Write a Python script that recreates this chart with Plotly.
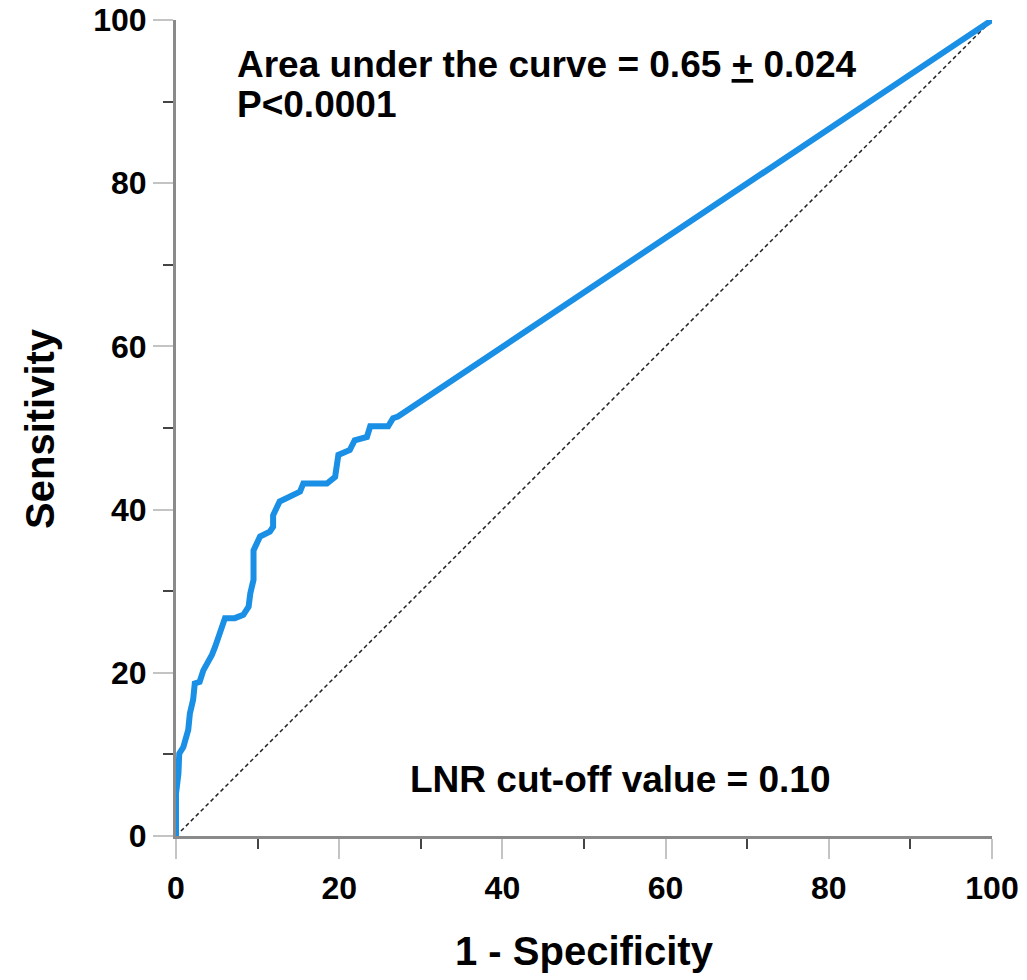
import plotly.graph_objects as go

# ROC curve points (1 - specificity %, sensitivity %)
fpr = [0, 0.0, 0.3, 0.4, 0.9, 1.5, 1.7, 2.1, 2.3, 2.9, 3.35, 3.8, 4.4, 4.8, 5.4, 6.0,
       7.2, 8.25, 8.9, 9.1, 9.5, 9.5, 10.3, 11.5, 11.9, 11.9, 12.7, 14.0, 15.2, 15.6,
       18.5, 19.5, 19.9, 21.3, 21.9, 23.4, 23.8, 26.0, 26.6, 27.2, 100]
sens = [0, 5.2, 7.7, 10.1, 10.9, 13.0, 15.0, 16.7, 18.7, 18.9, 20.3, 21.0, 22.2, 23.2,
        24.8, 26.7, 26.7, 27.1, 28.1, 29.7, 31.4, 35.0, 36.7, 37.3, 37.9, 39.3, 41.0,
        41.6, 42.2, 43.2, 43.2, 44.0, 46.7, 47.3, 48.5, 48.9, 50.2, 50.2, 51.2, 51.4, 100]

ref_x = [0, 100]
ref_y = [0, 100]

tick_vals = [0, 20, 40, 60, 80, 100]
tick_text = ["0", "20", "40", "60", "80", "100"]

auc_line1 = "Area under the curve = 0.65 <u>+</u> 0.024"
auc_line2 = "P&lt;0.0001"
cutoff_text = "LNR cut-off value = 0.10"
x_title = "1 - Specificity"
y_title = "Sensitivity"

FONT = "Liberation Sans, Arial, sans-serif"

fig = go.Figure()
fig.add_trace(go.Scatter(x=ref_x, y=ref_y, mode="lines",
                         line=dict(color="#222222", width=1.5, dash="4px,3px"),
                         showlegend=False, hoverinfo="skip"))
fig.add_trace(go.Scatter(x=fpr, y=sens, mode="lines",
                         line=dict(color="#1a8fe6", width=6),
                         showlegend=False))

axis_common = dict(
    range=[0, 100],
    tickvals=tick_vals,
    ticktext=tick_text,
    ticks="outside",
    ticklen=20,
    tickwidth=2,
    tickcolor="#c4c4c4",
    showline=True,
    linecolor="#8a8a8a",
    linewidth=3,
    showgrid=False,
    zeroline=False,
    automargin=False,
    ticklabeloverflow="allow",
    tickfont=dict(family=FONT, size=32, color="black", weight="bold"),
    minor=dict(dtick=10, tick0=0, ticks="outside", ticklen=10, tickwidth=2,
               tickcolor="#444444", showgrid=False),
)

fig.update_xaxes(**axis_common, ticklabelstandoff=2)
fig.update_yaxes(**axis_common)

fig.add_annotation(x=7.2, y=94.6, xref="x", yref="y", text="<b>" + auc_line1 + "</b>",
                   showarrow=False, xanchor="left", yanchor="middle", align="left",
                   font=dict(family=FONT, size=37, color="black"))
fig.add_annotation(x=7.2, y=89.6, xref="x", yref="y", text="<b>" + auc_line2 + "</b>",
                   showarrow=False, xanchor="left", yanchor="middle", align="left",
                   font=dict(family=FONT, size=37, color="black"))
fig.add_annotation(x=28.4, y=6.9, xref="x", yref="y", text="<b>" + cutoff_text + "</b>",
                   showarrow=False, xanchor="left", yanchor="middle", align="left",
                   font=dict(family=FONT, size=37, color="black"))

# axis titles
fig.add_annotation(x=0.5, y=-0.141, xref="paper", yref="paper", text="<b>" + x_title + "</b>",
                   showarrow=False, xanchor="center", yanchor="middle",
                   font=dict(family=FONT, size=40, color="black"))
fig.add_annotation(x=-0.1667, y=0.5, xref="paper", yref="paper", text="<b>" + y_title + "</b>",
                   showarrow=False, xanchor="center", yanchor="middle", textangle=-90,
                   font=dict(family=FONT, size=40, color="black"))

fig.update_layout(
    width=1027, height=980,
    margin=dict(l=176, r=35, t=20, b=144),
    plot_bgcolor="white",
    paper_bgcolor="white",
)

# remove the default page margin so the figure fills the window exactly
fig.write_html("out.html", config={"displayModeBar": False},
               post_script="document.body.style.margin='0px';")
